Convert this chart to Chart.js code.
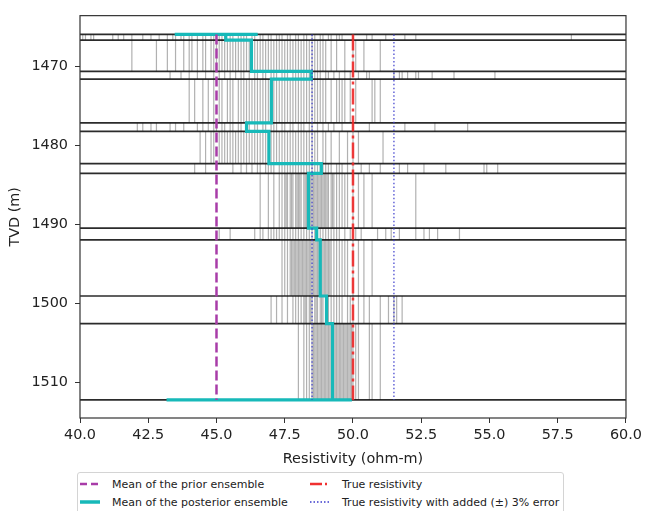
<!DOCTYPE html>
<html>
<head>
<meta charset="utf-8">
<title>Resistivity ensemble</title>
<script src="https://cdn.jsdelivr.net/npm/chart.js@4.4.1/dist/chart.umd.min.js"></script>
<style>
    body { margin: 0; background: #fff; overflow: hidden; font-family: 'DejaVu Sans', sans-serif; }
    .wrap { position: relative; width: 646px; height: 511px; overflow: hidden; }
    .legend { position: absolute; left: 77px; top: 472px; width: 485px; height: 50px; border: 1px solid #d4d4d4; border-radius: 3px; background: #fff; font-size: 11px; color: #222; }
    .legend .item { position: absolute; display: flex; align-items: center; height: 16px; white-space: nowrap; }
    .legend svg { margin-right: 12px; }
</style>
</head>
<body onload="onInit()">
<div class="wrap">
    <canvas id="myChart" width="646" height="511"></canvas>
    <div class="legend">
        <div class="item" style="left:2px;top:3px"><svg width="20" height="6"><line x1="0" y1="3" x2="20" y2="3" stroke="#a83ca8" stroke-width="2.5" stroke-dasharray="7,4"/></svg>Mean of the prior ensemble</div>
        <div class="item" style="left:2px;top:21px"><svg width="20" height="6"><line x1="0" y1="3" x2="20" y2="3" stroke="#17b9b9" stroke-width="3.5"/></svg>Mean of the posterior ensemble</div>
        <div class="item" style="left:232px;top:3px"><svg width="20" height="6"><line x1="0" y1="3" x2="20" y2="3" stroke="#f03030" stroke-width="2.5" stroke-dasharray="12,3,2,3"/></svg>True resistivity</div>
        <div class="item" style="left:232px;top:21px"><svg width="20" height="6"><line x1="0" y1="3" x2="20" y2="3" stroke="#3a3acc" stroke-width="1.3" stroke-dasharray="1.5,2"/></svg>True resistivity with added (±) 3% error</div>
    </div>
</div>
<script>
'use strict'

// layer boundaries (TVD, m), top to bottom
const layerDepths = [1465.92, 1466.63, 1470.60, 1471.57, 1477.12, 1478.19, 1482.28, 1483.53, 1490.46, 1491.95, 1499.05, 1502.54, 1512.21]

// ensemble members, one list per layer
const ensLayer0 = [40.1, 40.2, 40.4, 40.5, 41.2, 41.4, 41.6, 41.9, 42.3, 42.6, 42.9, 43.2, 43.4, 43.5, 43.7, 43.8, 44.0, 44.1, 44.3, 44.5, 44.6, 44.8, 44.9, 45.1, 45.2, 45.3, 45.5, 45.6, 45.8, 45.9, 46.0, 46.1, 46.3, 46.4, 46.6, 46.7, 46.9, 47.0, 47.2, 47.3, 47.4, 47.6, 47.7, 47.9, 48.0, 48.2, 48.3, 48.5, 48.6, 48.8, 48.9, 49.1, 49.2, 49.4, 49.5, 49.6, 50.0, 50.5, 50.7, 51.2, 51.9, 52.3, 58.0]
const ensLayer1 = [41.9, 42.8, 43.2, 43.5, 43.8, 44.0, 44.1, 44.3, 44.5, 44.6, 44.8, 44.9, 45.0, 45.1, 45.2, 45.3, 45.4, 45.5, 45.6, 45.7, 45.8, 45.9, 46.0, 46.1, 46.2, 46.3, 46.4, 46.5, 46.6, 46.7, 46.8, 46.9, 47.0, 47.1, 47.2, 47.3, 47.4, 47.5, 47.6, 47.7, 47.8, 47.9, 48.0, 48.1, 48.2, 48.3, 48.4, 48.5, 48.6, 48.7, 48.8, 48.9, 49.0, 49.2, 49.4, 49.7, 50.0, 50.1, 50.4, 51.0]
const ensLayer2 = [43.3, 43.7, 44.0, 44.3, 44.6, 44.9, 45.1, 45.3, 45.5, 45.7, 45.9, 46.0, 46.2, 46.4, 46.5, 46.7, 46.8, 47.0, 47.1, 47.2, 47.4, 47.5, 47.6, 47.8, 47.9, 48.0, 48.1, 48.2, 48.3, 48.4, 48.5, 48.6, 48.7, 48.8, 49.0, 49.1, 49.3, 49.5, 49.7, 49.9, 50.2, 50.5, 50.6, 51.5, 51.7, 51.8, 52.0, 52.3, 52.4, 52.9, 53.7, 55.2]
const ensLayer3 = [44.0, 44.2, 44.5, 44.7, 44.9, 45.1, 45.2, 45.4, 45.5, 45.6, 45.8, 45.9, 46.0, 46.1, 46.2, 46.3, 46.4, 46.5, 46.6, 46.7, 46.8, 46.9, 47.0, 47.1, 47.2, 47.3, 47.4, 47.5, 47.6, 47.7, 47.8, 47.9, 48.0, 48.1, 48.2, 48.3, 48.4, 48.5, 48.6, 48.7, 48.8, 48.9, 49.0, 49.2, 49.4, 49.5, 49.6, 49.7, 49.9, 50.1, 50.7, 50.8, 51.0]
const ensLayer4 = [42.1, 42.3, 42.6, 42.8, 43.3, 43.5, 43.8, 44.3, 44.5, 44.7, 44.9, 45.0, 45.2, 45.3, 45.5, 45.6, 45.8, 45.9, 46.1, 46.2, 46.4, 46.5, 46.7, 46.8, 47.0, 47.1, 47.2, 47.4, 47.5, 47.7, 47.8, 48.0, 48.1, 48.2, 48.4, 48.5, 48.7, 48.9, 49.1, 49.3, 49.6, 50.0, 50.6, 51.9, 53.0, 54.2]
const ensLayer5 = [44.4, 44.6, 44.8, 44.9, 45.1, 45.2, 45.3, 45.4, 45.5, 45.6, 45.7, 45.8, 45.9, 46.0, 46.1, 46.2, 46.3, 46.4, 46.5, 46.6, 46.7, 46.8, 46.9, 47.0, 47.1, 47.2, 47.3, 47.4, 47.5, 47.6, 47.7, 47.8, 47.9, 48.0, 48.1, 48.2, 48.3, 48.4, 48.5, 48.6, 48.7, 48.9, 49.0, 49.2, 49.5, 49.8, 50.0, 50.2, 51.1]
const ensLayer6 = [44.2, 44.6, 45.6, 45.9, 46.1, 46.3, 46.5, 46.6, 46.8, 46.9, 47.0, 47.1, 47.3, 47.4, 47.5, 47.6, 47.7, 47.8, 47.9, 48.0, 48.1, 48.2, 48.3, 48.4, 48.5, 48.6, 48.7, 48.8, 48.9, 49.0, 49.1, 49.2, 49.4, 49.5, 49.6, 49.8, 50.0, 50.3, 50.6, 51.0, 51.7, 52.0, 52.6, 53.4, 54.8, 54.9, 55.3]
const ensLayer7 = [46.6, 46.9, 47.1, 47.3, 47.4, 47.5, 47.55, 47.6, 47.7, 47.75, 47.8, 47.9, 47.95, 48.0, 48.05, 48.1, 48.2, 48.25, 48.3, 48.35, 48.4, 48.45, 48.5, 48.55, 48.6, 48.65, 48.7, 48.75, 48.8, 48.85, 48.9, 48.95, 49.0, 49.05, 49.1, 49.2, 49.25, 49.3, 49.4, 49.5, 49.6, 49.7, 49.8, 50.0, 50.2, 50.4, 50.7, 52.3]
const ensLayer8 = [45.1, 45.5, 46.4, 46.6, 46.7, 46.9, 47.0, 47.1, 47.2, 47.3, 47.4, 47.5, 47.6, 47.7, 47.8, 47.9, 48.0, 48.1, 48.2, 48.3, 48.4, 48.5, 48.6, 48.7, 48.8, 48.9, 49.0, 49.1, 49.2, 49.3, 49.4, 49.5, 49.7, 49.9, 50.1, 50.3, 50.9, 51.2, 51.4, 51.7, 52.3, 52.6, 52.8, 53.1, 53.9]
const ensLayer9 = [47.4, 47.5, 47.6, 47.7, 47.75, 47.8, 47.85, 47.9, 47.95, 48.0, 48.05, 48.1, 48.15, 48.2, 48.25, 48.3, 48.35, 48.4, 48.45, 48.5, 48.55, 48.6, 48.65, 48.7, 48.75, 48.8, 48.85, 48.9, 48.95, 49.0, 49.05, 49.1, 49.15, 49.2, 49.3, 49.4, 49.5, 49.6, 49.7, 49.8, 50.0, 50.2, 50.4, 50.7]
const ensLayer10 = [47.0, 47.2, 47.4, 47.6, 47.8, 47.9, 48.0, 48.1, 48.2, 48.25, 48.3, 48.4, 48.45, 48.5, 48.6, 48.65, 48.7, 48.8, 48.85, 48.9, 49.0, 49.05, 49.1, 49.2, 49.3, 49.4, 49.5, 49.6, 49.8, 49.9, 50.0, 50.2, 50.4, 50.6, 51.0, 51.3, 51.5, 51.6, 51.8]
const ensLayer11 = [48.0, 48.2, 48.3, 48.4, 48.5, 48.55, 48.6, 48.65, 48.7, 48.75, 48.8, 48.85, 48.9, 48.95, 49.0, 49.05, 49.1, 49.15, 49.2, 49.25, 49.3, 49.35, 49.4, 49.45, 49.5, 49.55, 49.6, 49.65, 49.7, 49.75, 49.8, 49.85, 49.9, 49.95, 50.0, 50.1, 50.2, 50.6, 50.7, 51.0]

const ensembleLayers = [ensLayer0, ensLayer1, ensLayer2, ensLayer3, ensLayer4, ensLayer5, ensLayer6, ensLayer7, ensLayer8, ensLayer9, ensLayer10, ensLayer11]

// posterior mean per layer, plus the stray ends of the curve
const postMean = [45.34, 46.28, 48.47, 47.01, 46.10, 46.92, 48.84, 48.37, 48.67, 48.80, 49.03, 49.25]
const postTopX = [43.47, 46.51]
const postBottomX = [49.96, 43.17]

const priorMean = 45
const trueRes = 50
const errorBounds = [48.5, 51.5]

const xRange = [40, 60]
const yRange = [1463.54, 1514.5]

const GRAY = 'rgba(100,100,100,0.5)'

var gChart

function onInit() {
    renderChart()
}

function lineSet(points, color, width, dash, order) {
    return {
        data: points,
        borderColor: color,
        borderWidth: width,
        borderDash: dash,
        showLine: true,
        pointRadius: 0,
        tension: 0,
        order
    }
}

function vLine(x, color, width, dash, order) {
    const top = layerDepths[0]
    const bottom = layerDepths[layerDepths.length - 1]
    return lineSet([{ x, y: top }, { x, y: bottom }], color, width, dash, order)
}

function getPosteriorPath() {
    const top = layerDepths[0]
    const bottom = layerDepths[layerDepths.length - 1]
    const pts = postTopX.map(x => ({ x, y: top }))
    postMean.forEach((val, idx) => {
        pts.push({ x: val, y: layerDepths[idx] })
        pts.push({ x: val, y: layerDepths[idx + 1] })
    })
    postBottomX.forEach(x => pts.push({ x, y: bottom }))
    return pts
}

function buildDatasets() {
    const datasets = []
    ensembleLayers.forEach((layer, idx) => {
        layer.forEach(val => {
            datasets.push(lineSet([{ x: val, y: layerDepths[idx] }, { x: val, y: layerDepths[idx + 1] }], GRAY, 1.2, [], 6))
        })
    })
    layerDepths.forEach(depth => {
        datasets.push(lineSet([{ x: xRange[0], y: depth }, { x: xRange[1], y: depth }], 'rgba(20,20,20,0.9)', 1.7, [], 5))
    })
    datasets.push(lineSet(getPosteriorPath(), '#17b9b9', 3.2, [], 3))
    datasets.push(vLine(priorMean, '#a83ca8', 2.5, [10, 4], 2))
    datasets.push(vLine(trueRes, 'rgba(240,40,40,0.9)', 2.5, [16, 4, 3, 4], 1))
    errorBounds.forEach(val => datasets.push(vLine(val, '#3a3acc', 1.2, [1.5, 2.3], 0)))
    return datasets
}

const framePlugin = {
    id: 'frame',
    afterDatasetsDraw(chart) {
        const { ctx, chartArea } = chart
        ctx.save()
        ctx.strokeStyle = '#333'
        ctx.lineWidth = 1.2
        ctx.strokeRect(chartArea.left, chartArea.top, chartArea.right - chartArea.left, chartArea.bottom - chartArea.top)
        ctx.restore()
    }
}

function renderChart() {
    Chart.defaults.font.family = "'DejaVu Sans', sans-serif"
    Chart.defaults.color = '#222'
    const ctx = document.getElementById('myChart')
    gChart = new Chart(ctx, {
        type: 'scatter',
        data: { datasets: buildDatasets() },
        plugins: [framePlugin],
        options: {
            responsive: false,
            animation: false,
            layout: { padding: { top: 10, right: 19, bottom: 0, left: 0 } },
            plugins: {
                legend: { display: false },
                tooltip: { enabled: false }
            },
            scales: {
                x: {
                    type: 'linear',
                    min: xRange[0],
                    max: xRange[1],
                    afterFit: scale => { scale.height = 93 },
                    ticks: { stepSize: 2.5, callback: val => val.toFixed(1), font: { size: 14.4 }, padding: 4, maxRotation: 0 },
                    grid: { drawOnChartArea: false, tickLength: 5, color: '#333' },
                    border: { display: false },
                    title: { display: true, text: 'Resistivity (ohm-m)', font: { size: 14.4 }, padding: { top: 0, bottom: 43.4 } }
                },
                y: {
                    type: 'linear',
                    reverse: true,
                    min: yRange[0],
                    max: yRange[1],
                    afterFit: scale => { scale.width = 80 },
                    ticks: { stepSize: 10, includeBounds: false, callback: val => String(val), font: { size: 14.4 }, padding: 7 },
                    grid: { drawOnChartArea: false, tickLength: 5, color: '#333' },
                    border: { display: false },
                    title: { display: true, text: 'TVD (m)', font: { size: 14.4 }, padding: { top: 6.4, bottom: 0 } }
                }
            }
        }
    })
}
</script>
</body>
</html>
